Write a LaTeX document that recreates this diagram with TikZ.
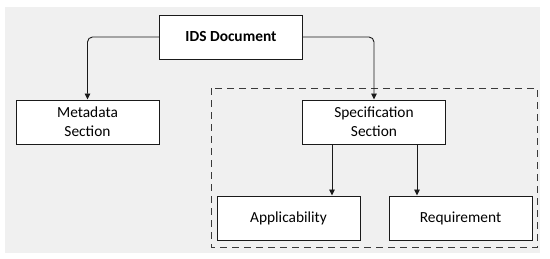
\documentclass[tikz,border=0pt]{standalone}
\usepackage{fontspec}
\setmainfont{Carlito}
\usetikzlibrary{arrows.meta, positioning}
\definecolor{cbg}{HTML}{F0F0F0}
\definecolor{cline}{HTML}{1A1A1A}
\definecolor{cdash}{HTML}{3A3A3A}
\tikzset{
  every picture/.style={x=1pt, y=-1pt, line width=1pt},
  box/.style={draw=cline, fill=white, line width=1pt, minimum width=143pt, minimum height=44pt, align=center, inner sep=0pt, font=\fontsize{15.4}{19}\selectfont},
  arrow/.style={-{Triangle[length=6pt, width=5.5pt]}, draw=cline, line width=0.9pt, rounded corners=5pt},
  group/.style={draw=cdash, dash pattern=on 7pt off 5pt, line width=0.9pt},
}

\begin{document}
\begin{tikzpicture}
  \useasboundingbox (0,0) rectangle (550,258);
  \fill[cbg] (5,7) rectangle (540,253);
  % specification part
  \draw[group] (211,88) rectangle (537.5,247);
  \node[box, font=\fontsize{15.4}{19}\selectfont\bfseries] (ids) at (231,37) {IDS Document};
  \node[box] (meta) at (87.5,122) {Metadata\\Section};
  \node[box] (spec) at (374,122) {Specification\\Section};
  \node[box] (app) at (288.5,218) {Applicability};
  \node[box] (req) at (460.5,218) {Requirement};
  % connectors
  \draw[arrow] (ids.west) -| (meta.north);
  \draw[arrow] (ids.east) -| (spec.north);
  \draw[arrow] ([xshift=-42pt]spec.south) coordinate (s1) -- (s1 |- app.north);
  \draw[arrow] ([xshift=43pt]spec.south) coordinate (s2) -- (s2 |- req.north);
\end{tikzpicture}
\end{document}
